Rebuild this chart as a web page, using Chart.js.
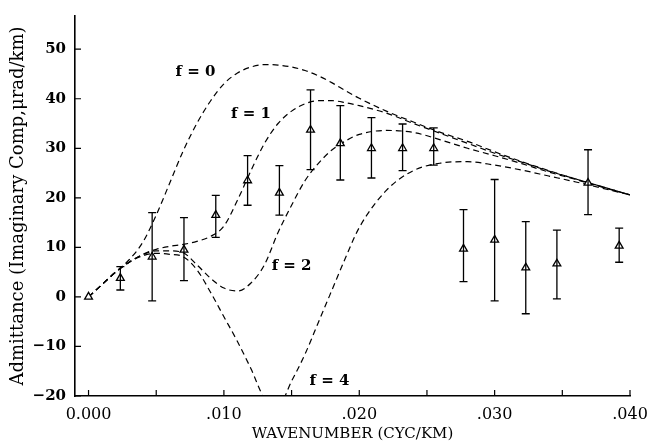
<!DOCTYPE html>
<html>
<head>
<meta charset="utf-8">
<script src="https://cdn.jsdelivr.net/npm/chart.js@4/dist/chart.umd.min.js"></script>
<style>
  html, body { margin: 0; padding: 0; background: #fff; }
  #wrap { width: 649px; height: 447px; }
</style>
</head>
<body>
<div id="wrap"><canvas id="admit" width="649" height="447"></canvas></div>
<script>
// observed admittance, imaginary part
const ptX = [0, 0.00235, 0.0047, 0.00705, 0.0094, 0.01175, 0.0141, 0.0164, 0.0186,
  0.0209, 0.0232, 0.0255, 0.0277, 0.0300, 0.0323, 0.0346, 0.0369, 0.0392];
const ptY = [0, 3.8, 8.1, 9.5, 16.5, 23.5, 21, 33.7, 31, 30, 30, 30, 9.7, 11.5, 5.9, 6.7, 23, 10.3];
const errLo = [null, 1.4, -0.8, 3.3, 12, 18.5, 16.5, 25.7, 23.6, 24, 25.5, 26.6, 3.1, -0.8, -3.4, -0.4, 16.6, 7];
const errHi = [null, 6.1, 17, 16, 20.5, 28.5, 26.5, 41.8, 38.6, 36.2, 34.9, 34.1, 17.6, 23.7, 15.2, 13.5, 29.7, 13.9];

// model curves
const curveX = [0, 0.001, 0.002, 0.003, 0.004, 0.005, 0.006, 0.007, 0.008, 0.009, 0.010,
  0.011, 0.012, 0.013, 0.014, 0.015, 0.016, 0.017, 0.018, 0.019, 0.020,
  0.022, 0.024, 0.026, 0.028, 0.030, 0.032, 0.034, 0.036, 0.038, 0.040];
const f0 = [0, 2.5, 5, 7.5, 11, 16.5, 23, 29.5, 35, 39.5, 43,
  45.2, 46.4, 46.9, 46.8, 46.4, 45.7, 44.6, 43.2, 41.6, 40.1,
  37.5, 35.3, 33.2, 31.4, 29.3, 27.3, 25.5, 23.8, 22.2, 20.6];
const f1 = [0, 2.5, 5, 7, 8.6, 9.6, 10.2, 10.6, 11.2, 12.2, 14.3,
  19.5, 25.5, 31, 35, 37.5, 39, 39.6, 39.6, 39.2, 38.6,
  37.1, 35, 33, 31, 29, 27.2, 25.4, 23.8, 22.2, 20.6];
const f2 = [0, 2.5, 5, 7, 8.5, 9.3, 9.3, 8.9, 6.5, 3.8, 1.8,
  1.2, 2.8, 6.5, 13, 18.5, 23.5, 27, 29.7, 31.5, 32.8,
  33.6, 33.2, 31.7, 30, 28.5, 26.9, 25.2, 23.7, 22.1, 20.6];
const f4 = [0, 2.5, 5, 7, 8.3, 8.8, 8.6, 8.1, 5.5, 1, -4,
  -9, -14.5, -20.5, -22, -17, -11.5, -5, 1.5, 8, 14,
  21.5, 25.5, 27, 27.3, 26.6, 25.6, 24.4, 23.2, 21.9, 20.6];

const curveNames = ['f = 0', 'f = 1', 'f = 2', 'f = 4'];
const labelX = [0.0079, 0.0120, 0.0150, 0.0178];
const labelY = [45.3, 36.8, 6.3, -17];

const xTickVals = [0, 0.005, 0.010, 0.015, 0.020, 0.025, 0.030, 0.035, 0.040];
const xTickText = ['0.000', '', '.010', '', '.020', '', '.030', '', '.040'];
const yTickVals = [-20, -10, 0, 10, 20, 30, 40, 50];
const yTickText = ['\u221220', '\u221210', '0', '10', '20', '30', '40', '50'];

const serif = '"DejaVu Serif", "Liberation Serif", serif';

function pairs(xs, ys) {
  return xs.map((x, i) => ({ x: x, y: ys[i] }));
}

const curveSets = [f0, f1, f2, f4].map((ys, i) => ({
  type: 'line',
  label: curveNames[i],
  data: pairs(curveX, ys),
  borderColor: '#000',
  borderWidth: 1.2,
  borderDash: [6, 4],
  pointRadius: 0,
  cubicInterpolationMode: 'monotone',
  fill: false
}));

// error bars, inward ticks and curve labels
const extras = {
  id: 'extras',
  afterDatasetsDraw(chart) {
    const ctx = chart.ctx, xs = chart.scales.x, ys = chart.scales.y;
    ctx.save();
    ctx.strokeStyle = '#000';
    ctx.lineWidth = 1.3;
    ptX.forEach((x, i) => {
      if (errLo[i] === null) return;
      const px = xs.getPixelForValue(x);
      const top = ys.getPixelForValue(errHi[i]);
      const bot = ys.getPixelForValue(errLo[i]);
      ctx.beginPath();
      ctx.moveTo(px, top); ctx.lineTo(px, bot);
      ctx.moveTo(px - 4, top); ctx.lineTo(px + 4, top);
      ctx.moveTo(px - 4, bot); ctx.lineTo(px + 4, bot);
      ctx.stroke();
    });
    ctx.restore();
  },
  afterDraw(chart) {
    const ctx = chart.ctx, xs = chart.scales.x, ys = chart.scales.y;
    const area = chart.chartArea;
    ctx.save();
    ctx.strokeStyle = '#000';
    ctx.lineWidth = 1.2;
    ctx.beginPath();
    xTickVals.forEach(v => {
      const px = xs.getPixelForValue(v);
      ctx.moveTo(px, area.bottom); ctx.lineTo(px, area.bottom - 6);
    });
    yTickVals.forEach(v => {
      const py = ys.getPixelForValue(v);
      ctx.moveTo(area.left, py); ctx.lineTo(area.left + 6, py);
    });
    ctx.stroke();

    ctx.fillStyle = '#000';
    ctx.font = 'bold 15px ' + serif;
    ctx.textAlign = 'center';
    ctx.textBaseline = 'middle';
    curveNames.forEach((t, i) => {
      ctx.fillText(t, xs.getPixelForValue(labelX[i]), ys.getPixelForValue(labelY[i]));
    });
    ctx.restore();
  }
};

new Chart(document.getElementById('admit'), {
  data: {
    datasets: [
      {
        type: 'scatter',
        label: 'observed',
        data: pairs(ptX, ptY),
        pointStyle: 'triangle',
        pointRadius: 4.5,
        pointBackgroundColor: '#fff',
        pointBorderColor: '#000',
        pointBorderWidth: 1.3,
        order: 0
      },
      ...curveSets
    ]
  },
  options: {
    responsive: false,
    animation: false,
    layout: { padding: { top: 16, right: 19, left: 0, bottom: 0 } },
    plugins: { legend: { display: false }, tooltip: { enabled: false } },
    scales: {
      x: {
        type: 'linear',
        min: -0.001,
        max: 0.040,
        afterBuildTicks: s => { s.ticks = xTickVals.map(v => ({ value: v })); },
        afterFit: s => { s.height = 51; },
        grid: { display: false },
        border: { display: true, color: '#000', width: 1.6 },
        ticks: {
          color: '#000',
          padding: 1,
          maxRotation: 0,
          autoSkip: false,
          font: { family: serif, size: 16 },
          callback: (v, i) => xTickText[i]
        },
        title: {
          display: true,
          text: 'WAVENUMBER (CYC/KM)',
          color: '#000',
          font: { family: serif, size: 15 },
          padding: { top: 0, bottom: 4 }
        }
      },
      y: {
        type: 'linear',
        min: -20,
        max: 56.7,
        afterBuildTicks: s => { s.ticks = yTickVals.map(v => ({ value: v })); },
        afterFit: s => { s.width = 75; },
        grid: { display: false },
        border: { display: true, color: '#000', width: 1.6 },
        ticks: {
          color: '#000',
          padding: 1,
          autoSkip: false,
          font: { family: serif, size: 15, weight: 'bold' },
          callback: (v, i) => yTickText[i]
        },
        title: {
          display: true,
          text: 'Admittance (Imaginary Comp,\u03bcrad/km)',
          color: '#000',
          font: { family: serif, size: 18 },
          padding: { top: 8, bottom: 0 }
        }
      }
    }
  },
  plugins: [extras]
});
</script>
</body>
</html>
